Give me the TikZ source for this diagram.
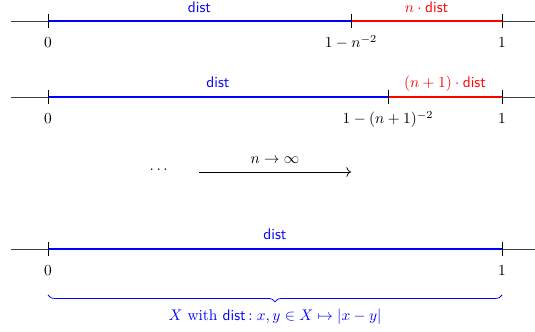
\documentclass[tikz,border=0pt]{standalone}
\usepackage{amsmath,amssymb}
\usetikzlibrary{decorations.pathreplacing,arrows.meta}
\begin{document}
\begin{tikzpicture}[x=0.65pt,y=-0.65pt,
  axis/.style={draw=black!75,line width=0.6pt},
  tick/.style={draw=black,line width=0.5pt},
  bseg/.style={draw=blue,line width=1.4pt},
  rseg/.style={draw=red,line width=1.4pt},
  ticklab/.style={anchor=base,inner sep=0pt,text=black},
  seglab/.style={anchor=base,inner sep=0pt},
  bracetext/.style={anchor=base,inner sep=0pt,text=blue}]
\useasboundingbox (0,0) rectangle (535,332);
% ---- line 1
\coordinate (l1s) at (11,21); \coordinate (l1e) at (535,21);
\coordinate (a0) at (48,21); \coordinate (a1) at (351,21); \coordinate (a2) at (502,21);
\draw[axis] (l1s) -- (l1e);
\draw[bseg] (a0) -- (a1);
\draw[rseg] (a1) -- (a2);
\foreach \p in {a0,a1,a2} \draw[tick] ([yshift=7*0.65pt]\p) -- ([yshift=-7*0.65pt]\p);
\node[seglab,text=blue] (d1) at (199.5,13) {\textsf{dist}};
\node[seglab,text=red] (r1) at (426.5,13) {$n\cdot\textsf{dist}$};
\node[ticklab] (t10) at (48,48) {$0$};
\node[ticklab] (t11) at (351,48) {$1-n^{-2}$};
\node[ticklab] (t12) at (502,48) {$1$};
% ---- line 2
\coordinate (l2s) at (11,97); \coordinate (l2e) at (535,97);
\coordinate (b0) at (48,97); \coordinate (b1) at (388,97); \coordinate (b2) at (502,97);
\draw[axis] (l2s) -- (l2e);
\draw[bseg] (b0) -- (b1);
\draw[rseg] (b1) -- (b2);
\foreach \p in {b0,b1,b2} \draw[tick] ([yshift=7*0.65pt]\p) -- ([yshift=-7*0.65pt]\p);
\node[seglab,text=blue] (d2) at (218,88) {\textsf{dist}};
\node[seglab,text=red] (r2) at (445,88) {$(n+1)\cdot\textsf{dist}$};
\node[ticklab] (t20) at (48,124) {$0$};
\node[ticklab] (t21) at (388,124) {$1-(n+1)^{-2}$};
\node[ticklab] (t22) at (502,124) {$1$};
% ---- limit
\node[inner sep=0pt] (dots) at (160,170) {$\cdots$};
\coordinate (arS) at (199,172); \coordinate (arE) at (351,172);
\draw[-{To[length=3pt]},line width=0.5pt] (arS) -- (arE);
\node[seglab] (lim) at (275,164) {$n\to\infty$};
% ---- line 3
\coordinate (l3s) at (11,249); \coordinate (l3e) at (535,249);
\coordinate (c0) at (48,249); \coordinate (c2) at (502,249);
\draw[axis] (l3s) -- (l3e);
\draw[bseg] (c0) -- (c2);
\foreach \p in {c0,c2} \draw[tick] ([yshift=7*0.65pt]\p) -- ([yshift=-7*0.65pt]\p);
\node[seglab,text=blue] (d3) at (275,240) {\textsf{dist}};
\node[ticklab] (t30) at (48,276) {$0$};
\node[ticklab] (t32) at (502,276) {$1$};
\coordinate (brL) at (48,295); \coordinate (brR) at (502,295);
\draw[blue,line width=0.5pt,decorate,decoration={brace,mirror,amplitude=4.5pt}] (brL) -- (brR);
\node[bracetext] (bt) at (275,321) {$X$ with \textsf{dist}$\,{:}\; x,y\in X\mapsto |x-y|$};
\end{tikzpicture}
\end{document}
